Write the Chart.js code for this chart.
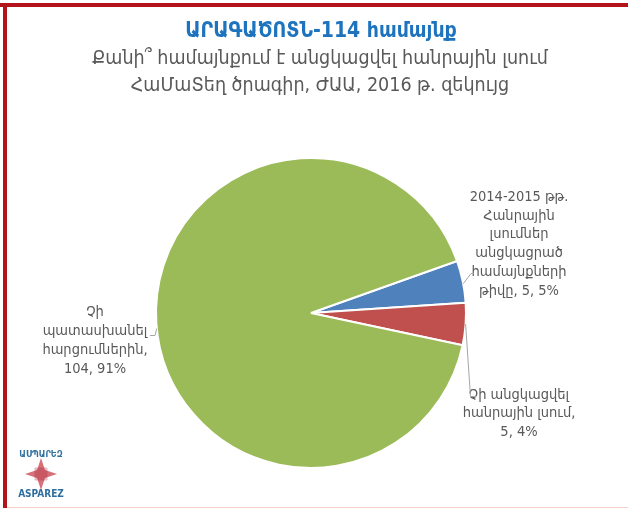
<!DOCTYPE html>
<html>
<head>
<meta charset="utf-8">
<script src="https://cdn.jsdelivr.net/npm/chart.js@4.4.1/dist/chart.umd.min.js"></script>
<style>
  html, body { margin: 0; padding: 0; background: #ffffff; }
  #wrap { width: 628px; height: 512px; position: relative; }
</style>
</head>
<body>
<div id="wrap"><canvas id="c" width="628" height="512"></canvas></div>
<script>
// Survey of Aragatsotn communities: public hearings held or not
const categories = [
  "2014-2015 թթ. Հանրային լսումներ անցկացրած համայնքների թիվը",
  "Չի անցկացվել հանրային լսում",
  "Չի պատասխանել հարցումներին"
];
const counts = [5, 5, 104];
const percentLabels = ["5%", "4%", "91%"];
const sliceColors = ["#4F81BD", "#C0504D", "#9BBB59"];

const titleText = "ԱՐԱԳԱԾՈՏՆ-114 համայնք";
const subtitleLines = [
  "Քանի՞ համայնքում է անցկացվել հանրային լսում",
  "ՀաՄաՏեղ ծրագիր, ԺԱԱ, 2016 թ. զեկույց"
];

// Label text blocks (line breaks as laid out beside the pie)
const labelLines = [
  ["2014-2015 թթ.", "Հանրային", "լսումներ", "անցկացրած", "համայնքների", "թիվը, " + counts[0] + ", " + percentLabels[0]],
  ["Չի անցկացվել", "հանրային լսում,", counts[1] + ", " + percentLabels[1]],
  ["Չի", "պատասխանել", "հարցումներին,", counts[2] + ", " + percentLabels[2]]
];

const FONT = "'DejaVu Sans Condensed', 'DejaVu Sans', sans-serif";

const decorPlugin = {
  id: 'decor',
  beforeDraw(chart) {
    const ctx = chart.ctx;
    ctx.save();
    ctx.fillStyle = '#ffffff';
    ctx.fillRect(0, 0, chart.width, chart.height);
    // frame
    ctx.fillStyle = '#B3141C';
    ctx.fillRect(0, 3, 628, 4);
    ctx.fillRect(3, 3, 4, 505);
    ctx.fillStyle = '#F6CFC8';
    ctx.fillRect(7, 507, 621, 1);
    ctx.restore();
  },
  afterDraw(chart) {
    const ctx = chart.ctx;
    ctx.save();
    ctx.textAlign = 'center';
    ctx.textBaseline = 'middle';
    // title
    ctx.fillStyle = '#1E73BE';
    ctx.font = 'bold 21px ' + FONT;
    ctx.fillText(titleText, 321, 32);
    ctx.fillStyle = '#595959';
    ctx.font = '19.5px ' + FONT;
    ctx.fillText(subtitleLines[0], 320, 59);
    ctx.fillText(subtitleLines[1], 320, 86);

    // data labels
    ctx.font = '14.5px ' + FONT;
    ctx.fillStyle = '#595959';
    const blocks = [
      { x: 519, y: 197, dy: 18.8 },
      { x: 519, y: 395, dy: 18.5 },
      { x: 95,  y: 312, dy: 19 }
    ];
    labelLines.forEach((lines, i) => {
      const b = blocks[i];
      lines.forEach((t, j) => ctx.fillText(t, b.x, b.y + j * b.dy));
    });

    // leader lines from the arc edge
    const meta = chart.getDatasetMeta(0);
    const arc0 = meta.data[0];
    const cx = arc0.x, cy = arc0.y, r = arc0.outerRadius;
    const edge = (a) => [cx + r * Math.cos(a), cy + r * Math.sin(a)];
    ctx.strokeStyle = '#A6A6A6';
    ctx.lineWidth = 1;
    // blue slice
    let p = edge(-0.19);
    ctx.beginPath();
    ctx.moveTo(p[0], p[1]);
    ctx.lineTo(471, 273.5);
    ctx.lineTo(474, 273.5);
    ctx.stroke();
    // red slice
    const aRed = (meta.data[1].startAngle + meta.data[1].endAngle) / 2;
    p = edge(aRed);
    ctx.beginPath();
    ctx.moveTo(p[0], p[1]);
    ctx.lineTo(470.5, 396.5);
    ctx.lineTo(476, 396.5);
    ctx.stroke();
    // green slice
    p = edge(Math.PI - 0.1);
    ctx.beginPath();
    ctx.moveTo(p[0], p[1]);
    ctx.lineTo(155, 335.5);
    ctx.lineTo(150, 335.5);
    ctx.stroke();

    // ASPAREZ logo
    ctx.fillStyle = '#2F6F9F';
    ctx.font = 'bold 9px ' + FONT;
    ctx.fillText('ԱՍՊԱՐԵԶ', 41, 455);
    ctx.font = 'bold 10px ' + FONT;
    ctx.fillText('ASPAREZ', 41, 494);
    const sx = 41, sy = 474;
    ctx.fillStyle = '#D8707A';
    ctx.beginPath();
    ctx.moveTo(sx, sy - 16);
    ctx.lineTo(sx + 4, sy - 4);
    ctx.lineTo(sx + 16, sy);
    ctx.lineTo(sx + 4, sy + 4);
    ctx.lineTo(sx, sy + 16);
    ctx.lineTo(sx - 4, sy + 4);
    ctx.lineTo(sx - 16, sy);
    ctx.lineTo(sx - 4, sy - 4);
    ctx.closePath();
    ctx.fill();
    ctx.strokeStyle = 'rgba(160,30,50,0.55)';
    ctx.lineWidth = 0.6;
    for (let k = -6; k <= 6; k += 2) {
      ctx.beginPath(); ctx.moveTo(sx + k, sy - 6); ctx.lineTo(sx + k, sy + 6); ctx.stroke();
      ctx.beginPath(); ctx.moveTo(sx - 6, sy + k); ctx.lineTo(sx + 6, sy + k); ctx.stroke();
    }
    ctx.restore();
  }
};

new Chart(document.getElementById('c'), {
  type: 'pie',
  data: {
    labels: categories,
    datasets: [{
      data: counts,
      backgroundColor: sliceColors,
      borderColor: '#ffffff',
      borderWidth: 2,
      hoverOffset: 0
    }]
  },
  options: {
    responsive: false,
    animation: false,
    rotation: 70.4,
    layout: { padding: { left: 155, right: 161, top: 157, bottom: 43 } },
    plugins: {
      legend: { display: false },
      tooltip: { enabled: false },
      title: { display: false }
    }
  },
  plugins: [decorPlugin]
});
</script>
</body>
</html>
